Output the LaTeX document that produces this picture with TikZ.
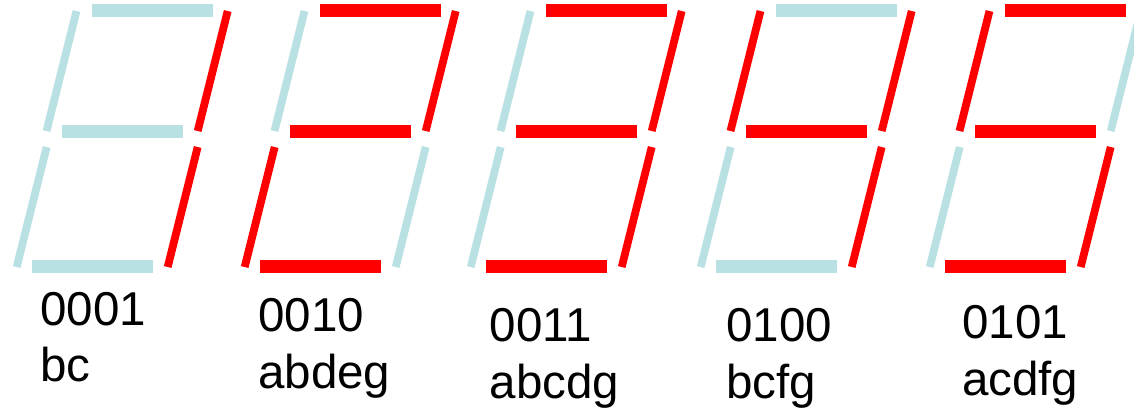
\documentclass[tikz,border=0pt]{standalone}
\usepackage{fontspec}
\setmainfont{Liberation Sans}
\definecolor{segoff}{HTML}{B9E0E3}
\definecolor{segon}{HTML}{FF0000}
\tikzset{
  hseg/.style={line width=12.3pt},
  vseg/.style={line width=7.8pt},
  on/.style={draw=segon},
  off/.style={draw=segoff},
  lbl/.style={font=\fontsize{47.5}{56}\selectfont, inner sep=0pt, anchor=base west}
}
% #1 x offset, #2..#8 states of segments a b c d e f g
\newcommand\sevenseg[8]{%
  \begin{scope}[xshift=#1pt]
    \draw[hseg,#2] (92,10.5) -- (213,10.5);
    \draw[vseg,#3] (227.7,11) -- (197.7,131);
    \draw[vseg,#4] (197.7,147) -- (167.7,267);
    \draw[hseg,#5] (32,266.5) -- (153,266.5);
    \draw[vseg,#6] (46.7,147) -- (16.7,267);
    \draw[vseg,#7] (76.5,11) -- (46.5,131);
    \draw[hseg,#8] (62,131.5) -- (183,131.5);
  \end{scope}%
}
\begin{document}
\begin{tikzpicture}[x=1pt,y=-1pt]
  \useasboundingbox (0,0) rectangle (1134,408);
  % digit 1: bc
  \sevenseg{0}{off}{on}{on}{off}{off}{off}{off}
  % digit 2: abdeg
  \sevenseg{228}{on}{on}{off}{on}{on}{off}{on}
  % digit 3: abcdg
  \sevenseg{454}{on}{on}{on}{on}{off}{off}{on}
  % digit 4: bcfg
  \sevenseg{684}{off}{on}{on}{off}{off}{on}{on}
  % digit 5: acdfg
  \sevenseg{913}{on}{off}{on}{on}{off}{on}{on}

  \node[lbl] (code1) at (40,325.7) {0001};
  \node[lbl] (segs1) at (40,381.7) {bc};
  \node[lbl] (code2) at (258,331.7) {0010};
  \node[lbl] (segs2) at (258,388.7) {abdeg};
  \node[lbl] (code3) at (489.7,341.7) {0011};
  \node[lbl] (segs3) at (489.7,398.7) {abcdg};
  \node[lbl] (code4) at (726.3,341.7) {0100};
  \node[lbl] (segs4) at (726.3,398.7) {bcfg};
  \node[lbl] (code5) at (962,338.3) {0101};
  \node[lbl] (segs5) at (962,395.3) {acdfg};
\end{tikzpicture}
\end{document}
